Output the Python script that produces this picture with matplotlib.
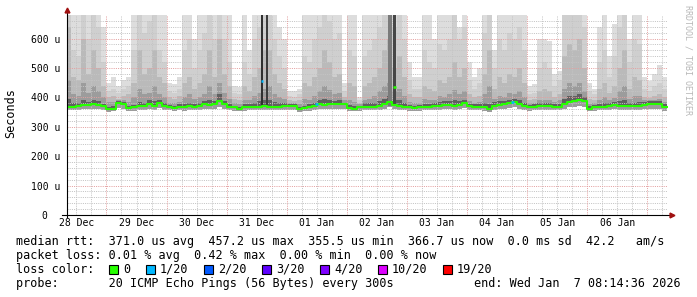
import numpy as np
import pandas as pd
import matplotlib
matplotlib.use("Agg")
import matplotlib.pyplot as plt
import matplotlib.dates as mdates
from matplotlib.patches import Rectangle

MONO = "DejaVu Sans Mono"
W, H = 697, 297

# time window of the graph (10 days) and 2-hour data columns
t_start = pd.Timestamp("2025-12-28 08:14:36")
t_end = pd.Timestamp("2026-01-07 08:14:36")
col_start = pd.date_range("2025-12-28 08:00", periods=120, freq="2h")

# median rtt per column, in microseconds
median_us = [
    368, 368, 370, 375, 374, 376, 375, 370, 360, 362, 380, 376, 365, 366, 372,
    370, 378, 372, 382, 372, 368, 365, 368, 367, 370, 368, 372, 378, 374, 376,
    388, 376, 368, 366, 362, 366, 368, 368, 368, 372, 368, 368, 368, 370, 371,
    370, 360, 364, 366, 370, 376, 374, 376, 378, 378, 376, 364, 362, 366, 368,
    368, 368, 372, 378, 385, 375, 370, 368, 366, 365, 366, 368, 368, 370, 372,
    374, 374, 372, 374, 380, 370, 368, 368, 367, 360, 372, 374, 376, 380, 384,
    378, 370, 366, 368, 372, 370, 372, 368, 368, 376, 384, 388, 390, 386, 362,
    366, 368, 368, 372, 374, 372, 372, 372, 371, 372, 374, 376, 376, 378, 366,
]

# lowest ping per column
lowest_us = [
    356, 356, 357, 360, 360, 361, 360, 357, 350, 352, 364, 362, 354, 355, 358,
    357, 362, 358, 365, 358, 356, 354, 356, 355, 357, 356, 358, 362, 360, 361,
    366, 361, 356, 355, 352, 355, 356, 356, 356, 358, 356, 356, 356, 357, 358,
    357, 350, 353, 355, 357, 361, 360, 361, 362, 362, 361, 354, 352, 355, 356,
    356, 356, 358, 362, 366, 360, 357, 356, 355, 354, 355, 356, 356, 357, 358,
    360, 360, 358, 360, 363, 357, 356, 356, 355, 350, 358, 360, 361, 363, 366,
    362, 357, 355, 356, 358, 357, 358, 356, 356, 361, 366, 368, 370, 367, 352,
    355, 356, 356, 358, 360, 358, 358, 358, 358, 358, 360, 361, 361, 362, 355,
]

# smoke: upper edge of each band, outer (highest ping) to inner
smoke1_us = [
    700, 700, 700, 700, 700, 700, 700, 640, 450, 470, 440, 460, 470, 700, 700,
    700, 700, 700, 700, 700, 450, 445, 470, 700, 700, 600, 700, 700, 700, 700,
    700, 700, 700, 440, 435, 700, 560, 700, 700, 700, 700, 700, 640, 600, 420,
    420, 430, 700, 700, 700, 700, 700, 700, 700, 700, 450, 700, 700, 400, 700,
    700, 700, 700, 700, 700, 700, 700, 700, 520, 470, 470, 700, 700, 600, 700,
    700, 700, 700, 640, 700, 520, 470, 500, 700, 700, 560, 700, 700, 700, 700,
    700, 700, 440, 445, 600, 600, 590, 480, 490, 700, 700, 700, 700, 700, 450,
    430, 640, 680, 540, 650, 700, 700, 600, 700, 700, 470, 455, 480, 510, 470,
]
smoke2_us = [
    700, 560, 540, 700, 600, 700, 640, 520, 420, 430, 415, 430, 440, 560, 700,
    620, 660, 700, 560, 520, 420, 415, 430, 560, 600, 500, 560, 620, 700, 600,
    700, 600, 520, 415, 410, 520, 480, 600, 640, 700, 700, 600, 540, 500, 405,
    400, 410, 540, 520, 600, 640, 700, 660, 600, 620, 420, 560, 540, 390, 540,
    560, 600, 640, 700, 700, 640, 680, 600, 460, 430, 430, 560, 520, 500, 580,
    560, 600, 680, 600, 640, 460, 430, 450, 620, 700, 500, 600, 560, 620, 600,
    640, 560, 410, 415, 500, 520, 500, 440, 460, 700, 700, 680, 700, 640, 420,
    410, 520, 560, 470, 540, 640, 700, 520, 600, 580, 430, 420, 440, 450, 430,
]
smoke3_us = [
    640, 470, 460, 600, 480, 560, 500, 440, 400, 405, 395, 405, 410, 450, 560,
    480, 500, 560, 470, 450, 400, 395, 405, 450, 470, 430, 450, 480, 560, 470,
    600, 480, 440, 395, 392, 440, 420, 470, 500, 560, 560, 480, 450, 430, 390,
    388, 392, 450, 440, 470, 500, 560, 520, 470, 480, 400, 450, 440, 382, 440,
    450, 470, 500, 560, 600, 500, 540, 470, 410, 400, 400, 440, 430, 420, 460,
    450, 470, 520, 470, 500, 410, 400, 405, 480, 560, 430, 470, 450, 480, 470,
    500, 450, 392, 395, 420, 430, 420, 400, 410, 540, 580, 560, 600, 500, 395,
    392, 430, 450, 415, 440, 500, 560, 430, 470, 460, 400, 398, 405, 410, 400,
]
smoke4_us = [
    460, 410, 405, 450, 415, 440, 420, 400, 385, 385, 390, 392, 385, 400, 430,
    410, 415, 440, 410, 400, 382, 380, 385, 400, 410, 395, 400, 410, 440, 410,
    450, 415, 395, 382, 378, 392, 390, 405, 415, 430, 440, 410, 400, 395, 382,
    380, 376, 395, 392, 405, 420, 440, 425, 410, 415, 390, 392, 385, 378, 392,
    395, 405, 420, 440, 450, 420, 430, 405, 385, 382, 382, 395, 392, 390, 405,
    400, 410, 425, 410, 420, 386, 382, 384, 410, 440, 395, 405, 400, 415, 410,
    420, 400, 380, 382, 392, 392, 392, 385, 390, 430, 450, 440, 450, 420, 378,
    380, 392, 400, 390, 398, 420, 440, 395, 405, 405, 390, 392, 392, 395, 385,
]
smoke5_us = [
    395, 380, 380, 392, 384, 390, 386, 378, 368, 370, 388, 384, 372, 374, 384,
    380, 390, 386, 392, 382, 375, 372, 376, 378, 382, 376, 380, 388, 392, 386,
    410, 388, 378, 372, 368, 376, 378, 382, 386, 392, 392, 384, 380, 380, 378,
    376, 366, 372, 376, 382, 390, 394, 390, 388, 390, 382, 374, 370, 372, 380,
    380, 382, 388, 394, 404, 390, 390, 380, 374, 372, 374, 378, 378, 380, 384,
    386, 388, 390, 388, 392, 378, 376, 376, 380, 376, 384, 386, 386, 392, 396,
    392, 380, 374, 376, 382, 380, 382, 376, 378, 394, 404, 406, 410, 400, 370,
    374, 378, 380, 382, 384, 386, 390, 382, 382, 384, 384, 386, 386, 388, 376,
]
smoke_colors = ["#dddddd", "#cfcfcf", "#bababa", "#9c9c9c", "#606060"]

# short bursts of very scattered pings (one hour or so wide)
spike_time = pd.to_datetime(["2025-12-31 14:05", "2025-12-31 16:15",
                             "2026-01-02 17:20", "2026-01-02 19:00"])
spike_hours = [1.0, 0.9, 1.5, 1.5]
spike_shade = ["#303030", "#3c3c3c", "#7a7a7a", "#464646"]
spike_median = [457.2, np.nan, np.nan, 436.0]
spike_loss = ["#00b8ff", None, None, "#26ff00"]

# other spots where the median line is drawn in a loss colour
loss_time = pd.to_datetime(["2026-01-01 11:50", "2026-01-04 18:10"])
loss_value = [376, 384]
loss_col = ["#00b8ff", "#00b8ff"]

loss_labels = ["0", "1/20", "2/20", "3/20", "4/20", "10/20", "19/20"]
loss_colors = ["#26ff00", "#00b8ff", "#0059ff", "#5e00ff", "#7e00ff", "#dd00ff", "#ff0000"]

day_labels = pd.date_range("2025-12-28 12:00", periods=10, freq="D")
midnights = pd.date_range("2025-12-29 00:00", periods=10, freq="D")
quarters = pd.date_range("2025-12-28 12:00", "2026-01-07 06:00", freq="6h")


def fx(x):
    return x / W


def fy(y):
    return 1 - y / H


fig = plt.figure(figsize=(W / 100, H / 100), dpi=100)
fig.patch.set_facecolor("white")
ax = fig.add_axes([fx(67), 1 - 215 / H, 601 / W, 200 / H])
ax.set_xlim(mdates.date2num(t_start), mdates.date2num(t_end))
ax.set_ylim(0, 680)
for s in ax.spines.values():
    s.set_visible(False)

edges = mdates.date2num(col_start.append(col_start[-1:] + pd.Timedelta(hours=2)))
lo = np.array(lowest_us, float)
med = np.array(median_us, float)


def ext(a):
    a = np.asarray(a, float)
    return np.append(a, a[-1])


bands = [smoke1_us, smoke2_us, smoke3_us, smoke4_us]
for up, c in zip(bands, smoke_colors[:4]):
    ax.fill_between(edges, ext(lo), ext(up), step="post", color=c, lw=0, zorder=1)
ax.fill_between(edges, ext(med), ext(smoke5_us), step="post", color=smoke_colors[4],
                lw=0, zorder=1)

# grid: minor every 20 u / 6 h, major every 100 u / day, 1px dotted
grid_kw = dict(lw=0.72, ls=(0, (1, 1.2)), zorder=3)
minor_c, major_c = "#c4c4c4", "#e4a0a0"
for v in range(20, 680, 20):
    if v % 100:
        ax.axhline(v, color=minor_c, **grid_kw)
for t in quarters:
    if t.hour != 0:
        ax.axvline(mdates.date2num(t), color=minor_c, **grid_kw)
for v in range(100, 680, 100):
    ax.axhline(v, color=major_c, **grid_kw)
for t in midnights:
    ax.axvline(mdates.date2num(t), color=major_c, **grid_kw)

# dark spikes sit on top of the grid
sp_x = mdates.date2num(spike_time)
for x, w, c in zip(sp_x, spike_hours, spike_shade):
    ax.bar(x, 700 - 372, bottom=372, width=w / 24, color=c, lw=0, zorder=4)

# median line
ax.step(edges, ext(med), where="post", color="#26ff00", lw=1.5, zorder=5)
for x, w, m, c in zip(sp_x, spike_hours, spike_median, spike_loss):
    if c is not None:
        ax.hlines(m, x - w / 48, x + w / 48, color=c, lw=1.8, zorder=6)
for t, v, c in zip(mdates.date2num(loss_time), loss_value, loss_col):
    ax.hlines(v, t - 1 / 48, t + 1 / 48, color=c, lw=1.8, zorder=6)

# axes with arrows
ax.plot([-0.008, 1.004], [0, 0], transform=ax.transAxes, color="black", lw=0.8,
        clip_on=False, zorder=7)
ax.plot([0, 0], [-0.012, 1.02], transform=ax.transAxes, color="black", lw=0.8,
        clip_on=False, zorder=7)
ax.plot([1.006], [0], marker=">", ms=3.5, color="#a01010", transform=ax.transAxes,
        clip_on=False, zorder=8)
ax.plot([0], [1.023], marker="^", ms=3.5, color="#a01010", transform=ax.transAxes,
        clip_on=False, zorder=8)

yt = list(range(0, 700, 100))
ax.set_yticks(yt)
ax.set_yticklabels([f"{v} u" if v else "0  " for v in yt], fontfamily=MONO, fontsize=7)
ax.set_xticks(mdates.date2num(day_labels))
ax.set_xticklabels([d.strftime("%d %b") for d in day_labels], fontfamily=MONO, fontsize=7)
ax.tick_params(axis="y", length=0, pad=5)
ax.tick_params(axis="x", length=0, pad=2.5)

fig.text(fx(11), fy(113), "Seconds", rotation=90, ha="center", va="center",
         fontfamily=MONO, fontsize=8.5)
fig.text(fx(688), fy(5), "RRDTOOL / TOBI OETIKER", rotation=-90, ha="center", va="top",
         fontfamily=MONO, fontsize=6, color="#b8b8b8")

lines = [
    (241.5, "median rtt:  371.0 us avg  457.2 us max  355.5 us min  366.7 us now  0.0 ms sd  42.2   am/s"),
    (255.5, "packet loss: 0.01 % avg  0.42 % max  0.00 % min  0.00 % now"),
    (269.5, "loss color:"),
    (283.5, "probe:       20 ICMP Echo Pings (56 Bytes) every 300s"),
]
for y, s in lines:
    fig.text(fx(16), fy(y), s, ha="left", va="center", fontfamily=MONO, fontsize=8.5)
fig.text(fx(681), fy(283.5), "end: Wed Jan  7 08:14:36 2026", ha="right", va="center",
         fontfamily=MONO, fontsize=8.5)

box_x = [109, 146, 204, 262, 320, 378, 443]
for bx, lab, c in zip(box_x, loss_labels, loss_colors):
    fig.patches.append(Rectangle((fx(bx), fy(274)), 9 / W, 9 / H, transform=fig.transFigure,
                                 facecolor=c, edgecolor="black", lw=0.8))
    fig.text(fx(bx + 14), fy(269.5), lab, ha="left", va="center", fontfamily=MONO,
             fontsize=8.5)

fig.savefig("out.png", dpi=100)
